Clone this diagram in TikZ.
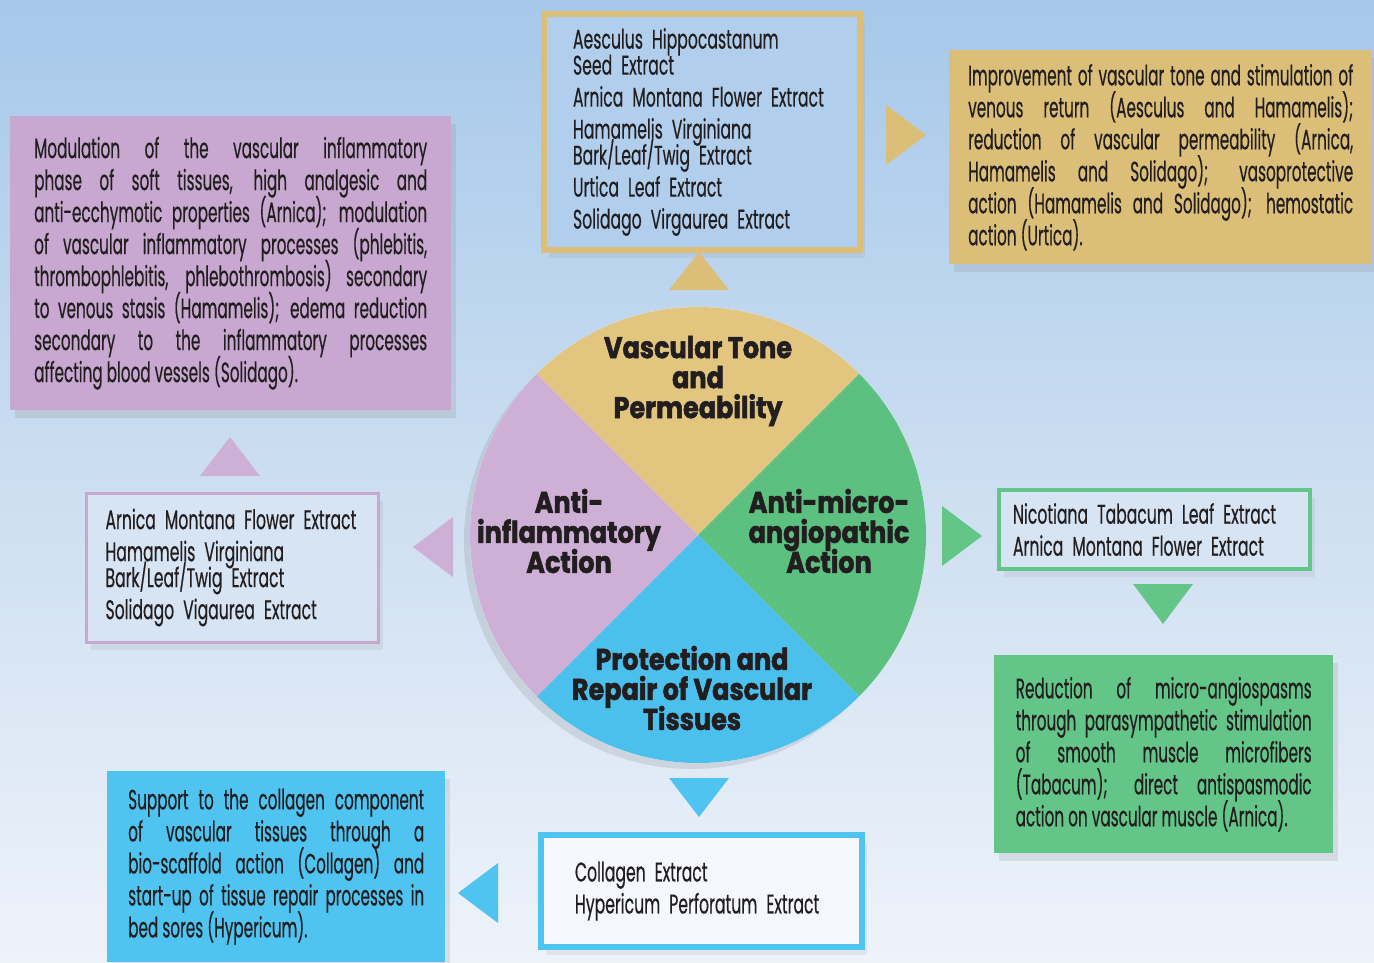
\documentclass[tikz,border=0pt]{standalone}
\usepackage{fontspec}
\setmainfont[FakeStretch=0.58,FakeBold=0.4]{Poppins}
\newfontfamily\bodyfont[FakeStretch=0.545,FakeBold=0.4]{Poppins}
\newfontfamily\headfont[FakeStretch=0.85,FakeBold=1.8]{Poppins}
\usetikzlibrary{shadows}
\hyphenpenalty=10000
\exhyphenpenalty=10000
\newcommand\tightlines{\lineskiplimit-30pt\relax}

\definecolor{skytop}{RGB}{166,200,234}
\definecolor{skymid}{RGB}{204,222,241}
\definecolor{skylow}{RGB}{238,243,250}
\definecolor{inkcol}{RGB}{34,30,32}
\definecolor{tonecol}{RGB}{226,197,127}
\definecolor{toneedge}{RGB}{219,191,120}
\definecolor{microcol}{RGB}{92,192,128}
\definecolor{microedge}{RGB}{99,197,135}
\definecolor{repaircol}{RGB}{76,192,237}
\definecolor{repairedge}{RGB}{80,196,240}
\definecolor{inflamcol}{RGB}{206,175,213}
\definecolor{inflamedge}{RGB}{200,168,208}

\begin{document}
\begin{tikzpicture}[x=1pt,y=-1pt,
  every node/.style={font=\fontsize{27}{26}\selectfont\tightlines, text=inkcol},
  effectbox/.style={anchor=north west, inner ysep=0pt, align=justify,
    drop shadow={opacity=0.18, shadow xshift=5pt, shadow yshift=-8pt},
    font=\bodyfont\fontsize{28}{32}\selectfont\tightlines},
  listbox/.style={anchor=north west, inner ysep=0pt, align=left,
    drop shadow={opacity=0.12, shadow xshift=5pt, shadow yshift=-8pt}},
  head/.style={align=center, font=\headfont\bfseries\fontsize{30}{30}\selectfont\tightlines}]

\useasboundingbox (0,0) rectangle (1374,962);
\shade[top color=skytop, bottom color=skylow, middle color=skymid] (0,0) rectangle (1374,962);

% wheel
\path[drop shadow={opacity=0.2, shadow xshift=-6pt, shadow yshift=-6pt}, fill=white] (698,535) circle (228);
\fill[tonecol] (698,535) -- ++(225:228) arc (225:315:228) -- cycle;
\fill[microcol] (698,535) -- ++(315:228) arc (315:405:228) -- cycle;
\fill[repaircol] (698,535) -- ++(45:228) arc (45:135:228) -- cycle;
\fill[inflamcol] (698,535) -- ++(135:228) arc (135:225:228) -- cycle;

\node[head] (tone) at (698,381) {Vascular Tone\\and\\Permeability};
\node[head] (inflam) at (569,531) {Anti-\\inflammatory\\Action};
\node[head] (micro) at (829,531) {Anti-micro-\\angiopathic\\Action};
\node[head] (repair) at (692,688) {Protection and\\Repair of Vascular\\Tissues};

% extract lists
\node[listbox, draw=toneedge, line width=6pt, fill=skytop!70!skymid, minimum width=316, minimum height=236,
  text width=258, inner xsep=29] (tonelist) at (541,11)
  {Aesculus Hippocastanum\\Seed Extract\\[6pt]Arnica Montana Flower Extract\\[6pt]Hamamelis Virginiana\\Bark/Leaf/Twig Extract\\[6pt]Urtica Leaf Extract\\[6pt]Solidago Virgaurea Extract};
\node[listbox, draw=inflamedge, line width=3pt, fill=skymid!70!skylow, minimum width=292, minimum height=149,
  text width=253, inner xsep=19.5] (inflamlist) at (84.5,491.5)
  {Arnica Montana Flower Extract\\[6pt]Hamamelis Virginiana\\Bark/Leaf/Twig Extract\\[6pt]Solidago Vigaurea Extract};
\node[listbox, draw=microedge, line width=4pt, fill=skymid!70!skylow, minimum width=311, minimum height=79,
  text width=283, inner xsep=14] (microlist) at (997,488)
  {Nicotiana Tabacum Leaf Extract\\[6pt]Arnica Montana Flower Extract};
\node[listbox, draw=repairedge, line width=6pt, fill=skylow!60!white, minimum width=321, minimum height=112,
  text width=253, inner xsep=34] (repairlist) at (538,832)
  {Collagen Extract\\[6pt]Hypericum Perforatum Extract};

% effects
\node[effectbox, fill=toneedge, minimum width=423, minimum height=214, text width=385, inner xsep=19] (tonetext) at (949,50)
  {Improvement of vascular tone and stimulation of\linebreak
   venous return (Aesculus and Hamamelis);\linebreak
   reduction of vascular permeability (Arnica,\linebreak
   Hamamelis and Solidago); vasoprotective\linebreak
   action (Hamamelis and Solidago); hemostatic\linebreak
   action (Urtica).};
\node[effectbox, fill=inflamedge, minimum width=441, minimum height=294, text width=393, inner xsep=24] (inflamtext) at (10,116)
  {Modulation of the vascular inflammatory\linebreak
   phase of soft tissues, high analgesic and\linebreak
   anti-ecchymotic properties (Arnica); modulation\linebreak
   of vascular inflammatory processes (phlebitis,\linebreak
   thrombophlebitis, phlebothrombosis) secondary\linebreak
   to venous stasis (Hamamelis); edema reduction\linebreak
   secondary to the inflammatory processes\linebreak
   affecting blood vessels (Solidago).};
\node[effectbox, fill=microedge, minimum width=339, minimum height=198, text width=296, inner xsep=21.5] (microtext) at (994,655)
  {Reduction of micro-angiospasms\linebreak
   through parasympathetic stimulation\linebreak
   of smooth muscle microfibers\linebreak
   (Tabacum); direct antispasmodic\linebreak
   action on vascular muscle (Arnica).};
\node[effectbox, fill=repairedge, minimum width=338, minimum height=191, text width=296, inner xsep=21] (repairtext) at (107,771)
  {Support to the collagen component\linebreak
   of vascular tissues through a\linebreak
   bio-scaffold action (Collagen) and\linebreak
   start-up of tissue repair processes in\linebreak
   bed sores (Hypericum).};

% pointers
\fill[toneedge] (669,290) -- (699,252) -- (729,290) -- cycle;
\fill[toneedge] (886,105) -- (926,135) -- (886,165) -- cycle;
\fill[inflamcol] (200,476) -- (230,437) -- (260,476) -- cycle;
\fill[inflamcol] (453,517) -- (413,547) -- (453,577) -- cycle;
\fill[microedge] (942,506) -- (982,536) -- (942,566) -- cycle;
\fill[microedge] (1133,584) -- (1163,624) -- (1193,584) -- cycle;
\fill[repairedge] (669,778) -- (699,817) -- (729,778) -- cycle;
\fill[repairedge] (498,863) -- (458,893) -- (498,923) -- cycle;
\end{tikzpicture}
\end{document}
